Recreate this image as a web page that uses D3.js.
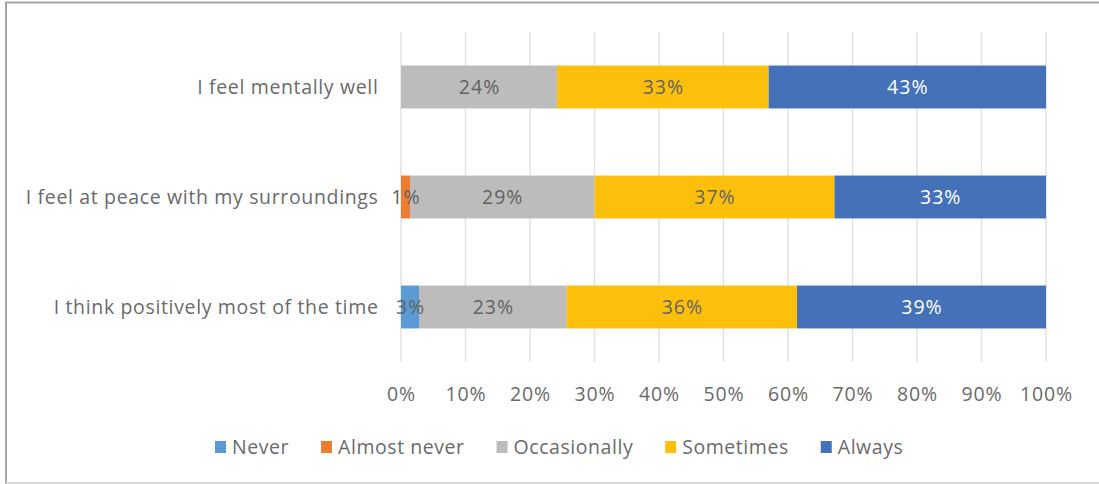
<!DOCTYPE html>
<html><head><meta charset="utf-8">
<script src="https://cdn.jsdelivr.net/npm/d3@7"></script>
<style>body{margin:0;background:#fff}svg{display:block}</style>
</head><body>
<script>
const categories = ["I feel mentally well","I feel at peace with my surroundings","I think positively most of the time"];
const seriesNames = ["Never","Almost never","Occasionally","Sometimes","Always"];
const never = [0, 0, 2.8];
const almostNever = [0, 1.4, 0];
const occasionally = [24.2, 28.6, 22.9];
const sometimes = [32.8, 37.2, 35.7];
const always = [43.0, 32.8, 38.6];
const tickLabels = ["0%","10%","20%","30%","40%","50%","60%","70%","80%","90%","100%"];
const colors = ["#5b9bd5","#ed7d31","#bcbcbc","#fcc00c","#4471b8"];
const labelColors = ["#636363","#636363","#636363","#636363","#ffffff"];
const textColor = "#6a6a6a";

const W = 1099, H = 484;
const font = "'Open Sans', sans-serif";
const svg = d3.select("body").append("svg").attr("width", W).attr("height", H);
svg.append("rect").attr("x", 6).attr("y", 2.5).attr("width", W + 10).attr("height", 480.5)
  .attr("fill", "#fff").attr("stroke", "#a6a6a6").attr("stroke-width", 2);
svg.append("line").attr("x1", 6).attr("x2", W).attr("y1", 483).attr("y2", 483).attr("stroke", "#d9d9d9").attr("stroke-width", 2);

const x = d3.scaleLinear().domain([0, 100]).range([401, 1046]);
const y = d3.scaleBand().domain(categories).range([32, 362]).paddingInner(0.61).paddingOuter(0.305);

const rows = categories.map((c, i) => ({cat: c, vals: [never[i], almostNever[i], occasionally[i], sometimes[i], always[i]]}));
const table = rows.map(r => { const o = {cat: r.cat}; seriesNames.forEach((s, j) => o[s] = r.vals[j]); return o; });
const stacked = d3.stack().keys(seriesNames)(table);

// gridlines
svg.append("g").selectAll("line").data(d3.range(0, 101, 10)).join("line")
  .attr("x1", d => x(d)).attr("x2", d => x(d)).attr("y1", 32).attr("y2", 362)
  .attr("stroke", "#e3e3e3").attr("stroke-width", 1.5);

// bars
stacked.forEach((layer, j) => {
  svg.append("g").selectAll("rect").data(layer.filter(d => d[1] - d[0] > 0)).join("rect")
    .attr("x", d => x(d[0])).attr("width", d => x(d[1]) - x(d[0]))
    .attr("y", d => y(d.data.cat)).attr("height", y.bandwidth())
    .attr("fill", colors[j]);
});
stacked.forEach((layer, j) => {
  svg.append("g").selectAll("text").data(layer.filter(d => d[1] - d[0] > 0)).join("text")
    .attr("x", d => x((d[0] + d[1]) / 2) + 0.5).attr("y", d => y(d.data.cat) + y.bandwidth() / 2)
    .attr("dy", "0.36em").attr("text-anchor", "middle")
    .attr("font-family", font).attr("font-size", 19.5).attr("letter-spacing", 1).attr("fill", labelColors[j])
    .text(d => Math.round(d[1] - d[0]) + "%");
});

// category labels
svg.append("g").selectAll("text").data(categories).join("text")
  .attr("x", 378.5).attr("y", d => y(d) + y.bandwidth() / 2).attr("dy", "0.36em")
  .attr("text-anchor", "end").attr("font-family", font).attr("font-size", 19.5).attr("letter-spacing", 0.65).attr("fill", textColor)
  .text(d => d);

// x axis
const xAxis = d3.axisBottom(x).tickValues(d3.range(0, 101, 10)).tickSize(0).tickFormat((d, i) => tickLabels[i]);
const ax = svg.append("g").attr("transform", "translate(0,384)").call(xAxis);
ax.select(".domain").remove();
ax.selectAll("text").attr("font-family", font).attr("font-size", 19.5).attr("letter-spacing", 0.8).attr("fill", textColor);

// legend
const lg = svg.append("g");
const items = lg.selectAll("g").data(seriesNames).join("g");
items.append("rect").attr("x", 0).attr("y", -6).attr("width", 11).attr("height", 12).attr("fill", (d, i) => colors[i]);
const lt = items.append("text").attr("x", 17).attr("y", 0).attr("dy", "0.36em").attr("font-family", font).attr("font-size", 19.5)
  .attr("letter-spacing", 0.55).attr("fill", textColor).text(d => d);
let cx = 0;
const widths = [];
lt.each(function() { widths.push(this.getComputedTextLength()); });
items.attr("transform", (d, i) => { const t = `translate(${cx},447)`; cx += 17 + widths[i] + 32; return t; });
const total = cx - 32;
lg.attr("transform", `translate(${215},0)`);
</script>
</body></html>
